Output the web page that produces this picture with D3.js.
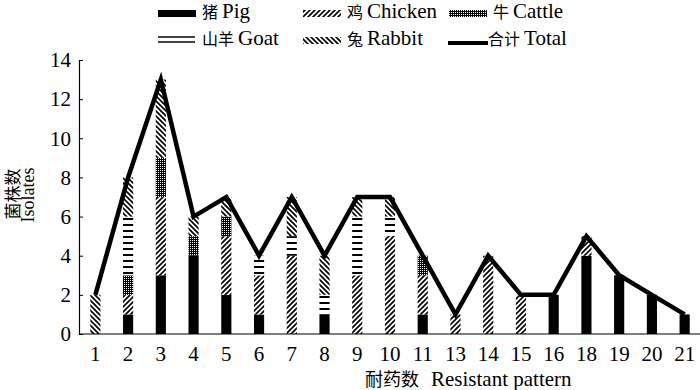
<!DOCTYPE html>
<html>
<head>
<meta charset="utf-8">
<script src="https://cdn.jsdelivr.net/npm/d3@7"></script>
<style>
  body { margin: 0; background: #fff; }
  svg text { font-family: "Liberation Serif", "Times New Roman", serif; fill: #000; }
  svg text.cjk { font-family: "Noto Sans CJK SC", sans-serif; }
</style>
</head>
<body>
<svg id="chart" width="700" height="390"></svg>
<script>
// resistant pattern categories (x axis)
const patterns = ['1', '2', '3', '4', '5', '6', '7', '8', '9', '10', '11', '13', '14', '15', '16', '18', '19', '20', '21'];

// isolates per host
const pig     = [0, 1, 3, 4, 2, 1, 0, 1, 0, 0, 1, 0, 0, 0, 2, 4, 3, 2, 1];
const chicken = [0, 1, 4, 0, 3, 2, 4, 0, 3, 5, 2, 1, 4, 2, 0, 1, 0, 0, 0];
const cattle  = [0, 1, 2, 1, 1, 0, 0, 0, 0, 0, 1, 0, 0, 0, 0, 0, 0, 0, 0];
const goat    = [0, 3, 0, 0, 0, 1, 1, 1, 3, 1, 0, 0, 0, 0, 0, 0, 0, 0, 0];
const rabbit  = [2, 2, 4, 1, 1, 0, 2, 2, 1, 1, 0, 0, 0, 0, 0, 0, 0, 0, 0];
const total   = [2, 8, 13, 6, 7, 4, 7, 4, 7, 7, 4, 1, 4, 2, 2, 5, 3, 2, 1];

const yTicks = [0, 2, 4, 6, 8, 10, 12, 14];

const keys = ['pig', 'chicken', 'cattle', 'goat', 'rabbit'];
const labelCn = { pig: '猪', chicken: '鸡', cattle: '牛', goat: '山羊', rabbit: '兔', total: '合计' };
const labelEn = { pig: 'Pig', chicken: 'Chicken', cattle: 'Cattle', goat: 'Goat', rabbit: 'Rabbit', total: 'Total' };

const rows = patterns.map((p, i) => ({
  pattern: p, pig: pig[i], chicken: chicken[i], cattle: cattle[i],
  goat: goat[i], rabbit: rabbit[i], total: total[i]
}));

const svg = d3.select('#chart');
const plotLeft = 79, plotRight = 701, plotTop = 60, plotBottom = 334;
const serif = '"Liberation Serif", "Times New Roman", serif';

const x = d3.scaleBand().domain(patterns).range([plotLeft, plotRight])
  .paddingInner(0.69).paddingOuter(0.345);
const y = d3.scaleLinear().domain([0, 14]).range([plotBottom, plotTop]);

// hatch patterns
const defs = svg.append('defs');
function hatch(id, d, size, sw) {
  const p = defs.append('pattern').attr('id', id)
    .attr('patternUnits', 'userSpaceOnUse')
    .attr('width', size).attr('height', size);
  p.append('rect').attr('width', size).attr('height', size).attr('fill', '#fff');
  p.append('path').attr('d', d).attr('stroke', '#000').attr('stroke-width', sw);
}
hatch('p-chicken', 'M-1,1 l2,-2 M0,5 l5,-5 M4,6 l2,-2', 5, 1.7);
hatch('p-rabbit', 'M-1,4 l2,2 M0,0 l5,5 M4,-1 l2,2', 5, 1.7);

const cat = defs.append('pattern').attr('id', 'p-cattle')
  .attr('patternUnits', 'userSpaceOnUse').attr('width', 2).attr('height', 2);
cat.append('rect').attr('width', 2).attr('height', 2).attr('fill', '#000');
cat.append('rect').attr('width', 1).attr('height', 1).attr('fill', '#fff');

const gp = defs.append('pattern').attr('id', 'p-goat')
  .attr('patternUnits', 'userSpaceOnUse').attr('width', 10).attr('height', 6);
gp.append('rect').attr('width', 10).attr('height', 6).attr('fill', '#fff');
gp.append('rect').attr('y', 2).attr('width', 10).attr('height', 2).attr('fill', '#000');

const fills = {
  pig: '#000', chicken: 'url(#p-chicken)', cattle: 'url(#p-cattle)',
  goat: 'url(#p-goat)', rabbit: 'url(#p-rabbit)'
};

// stacked bars
const series = d3.stack().keys(keys)(rows);
svg.append('g').selectAll('g')
  .data(series)
  .join('g')
  .attr('fill', d => fills[d.key])
  .selectAll('rect')
  .data(d => d.filter(s => s[1] > s[0]))
  .join('rect')
  .attr('x', d => x(d.data.pattern))
  .attr('width', x.bandwidth())
  .attr('y', d => y(d[1]))
  .attr('height', d => y(d[0]) - y(d[1]));

// total line
const line = d3.line()
  .x(d => x(d.pattern) + x.bandwidth() / 2)
  .y(d => y(d.total));
svg.append('path')
  .datum(rows)
  .attr('fill', 'none')
  .attr('stroke', '#000')
  .attr('stroke-width', 4.5)
  .attr('stroke-linejoin', 'miter')
  .attr('d', line);

// axes
const yAxis = svg.append('g').attr('transform', `translate(${plotLeft},0)`)
  .call(d3.axisLeft(y).tickValues(yTicks).tickSize(-4).tickPadding(8));
const xAxis = svg.append('g').attr('transform', `translate(0,${plotBottom})`)
  .call(d3.axisBottom(x).tickSize(0).tickPadding(12));
[yAxis, xAxis].forEach(a => {
  a.select('.domain').attr('stroke', '#000').attr('stroke-width', 1.2);
  a.selectAll('.tick line').attr('stroke', '#000');
  a.selectAll('.tick text').attr('font-size', 21).style('font-family', serif);
});
xAxis.select('.domain').attr('d', `M${plotLeft},0H700`);

// chinese part then latin part, as two text elements
function mixed(g, x0, y0, cn, en, cnSize, enSize, gap) {
  const c = g.append('text').attr('class', 'cjk')
    .attr('x', x0).attr('y', y0).attr('font-size', cnSize).text(cn);
  const w = c.node().getComputedTextLength();
  g.append('text')
    .attr('x', x0 + w + gap).attr('y', y0).attr('font-size', enSize)
    .style('font-family', serif).text(en);
}

// axis titles
mixed(svg, 365, 386, '耐药数', 'Resistant pattern', 18, 21, 12);
svg.append('text')
  .attr('class', 'cjk')
  .attr('transform', 'translate(19,194) rotate(-90)')
  .attr('text-anchor', 'middle').attr('font-size', 17)
  .text('菌株数');
svg.append('text')
  .attr('transform', 'translate(34,195) rotate(-90)')
  .attr('text-anchor', 'middle').attr('font-size', 18)
  .style('font-family', serif)
  .text('Isolates');

// legend
const legendItems = [
  { key: 'pig', x: 158, y: 12 },
  { key: 'chicken', x: 303, y: 12 },
  { key: 'cattle', x: 449, y: 12 },
  { key: 'goat', x: 158, y: 39 },
  { key: 'rabbit', x: 303, y: 39 },
  { key: 'total', x: 448, y: 39 }
];
const lg = svg.append('g').selectAll('g').data(legendItems).join('g')
  .attr('transform', d => `translate(${d.x},${d.y})`);
lg.each(function (d) {
  const g = d3.select(this);
  if (d.key === 'goat') {
    g.append('line').attr('x1', 0).attr('x2', 37).attr('y1', -2).attr('y2', -2)
      .attr('stroke', '#000').attr('stroke-width', 1.5);
    g.append('line').attr('x1', 0).attr('x2', 37).attr('y1', 3).attr('y2', 3)
      .attr('stroke', '#000').attr('stroke-width', 1.5);
  } else if (d.key === 'total') {
    g.append('line').attr('x1', 0).attr('x2', 40).attr('y1', 4).attr('y2', 4)
      .attr('stroke', '#000').attr('stroke-width', 4);
  } else {
    g.append('rect').attr('x', 0).attr('y', -2).attr('width', 38).attr('height', 7)
      .attr('fill', fills[d.key]);
  }
  mixed(g, d.key === 'total' ? 40 : 44, 6, labelCn[d.key], labelEn[d.key], 16, 21, 4);
});
</script>
</body>
</html>
